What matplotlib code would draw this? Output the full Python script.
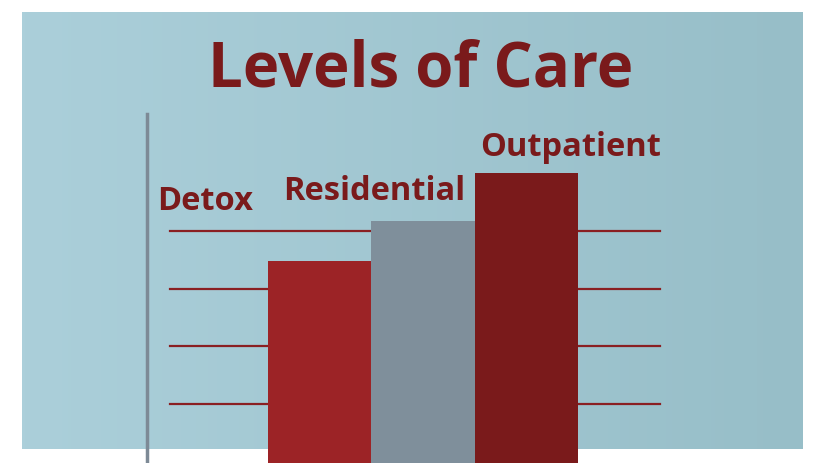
import matplotlib.pyplot as plt
import numpy as np

categories = ["Detox", "Residential", "Outpatient"]
values = [202, 242, 290]          # bar heights (px from bottom edge)
bar_colors = ["#9C2326", "#7F8F9B", "#7A1A1B"]
grid_levels = [232, 174, 117, 59]

W, H = 826, 464
fig = plt.figure(figsize=(W / 100, H / 100), dpi=100)
ax = fig.add_axes([0, 0, 1, 1])
ax.set_xlim(0, W)
ax.set_ylim(0, H)
ax.axis("off")

# background panel with soft gradient
grad = np.linspace(0, 1, 256).reshape(1, -1)
ax.imshow(grad, extent=(22, 803, 14, 451), cmap=plt.matplotlib.colors.LinearSegmentedColormap.from_list(
    "bg", ["#ABCFDA", "#97BEC8"]), aspect="auto", zorder=0)

# horizontal guide lines
for y in grid_levels:
    ax.plot([170, 660], [y, y], color="#8A1F22", lw=1.6, zorder=1)

# vertical axis line
ax.plot([147, 147], [0, 349], color="#7D8A96", lw=2.5, zorder=1)

x = [319.5, 423, 526.5]
ax.bar(x, values, width=103.5, color=bar_colors, zorder=2)

font = "Open Sans"
ax.text(157, 263, categories[0], ha="left", va="center", fontsize=23.5,
        fontweight="bold", color="#7A1A1B", family=font, zorder=3)
ax.text(374, 273, categories[1], ha="center", va="center", fontsize=23.5,
        fontweight="bold", color="#7A1A1B", family=font, zorder=3)
ax.text(571, 317, categories[2], ha="center", va="center", fontsize=23.5,
        fontweight="bold", color="#7A1A1B", family=font, zorder=3)

ax.text(421, 394, "Levels of Care", ha="center", va="center", fontsize=44.5,
        fontweight="bold", color="#7A1A1B", family=font, zorder=3)

fig.savefig("out.png", dpi=100, facecolor="white")
